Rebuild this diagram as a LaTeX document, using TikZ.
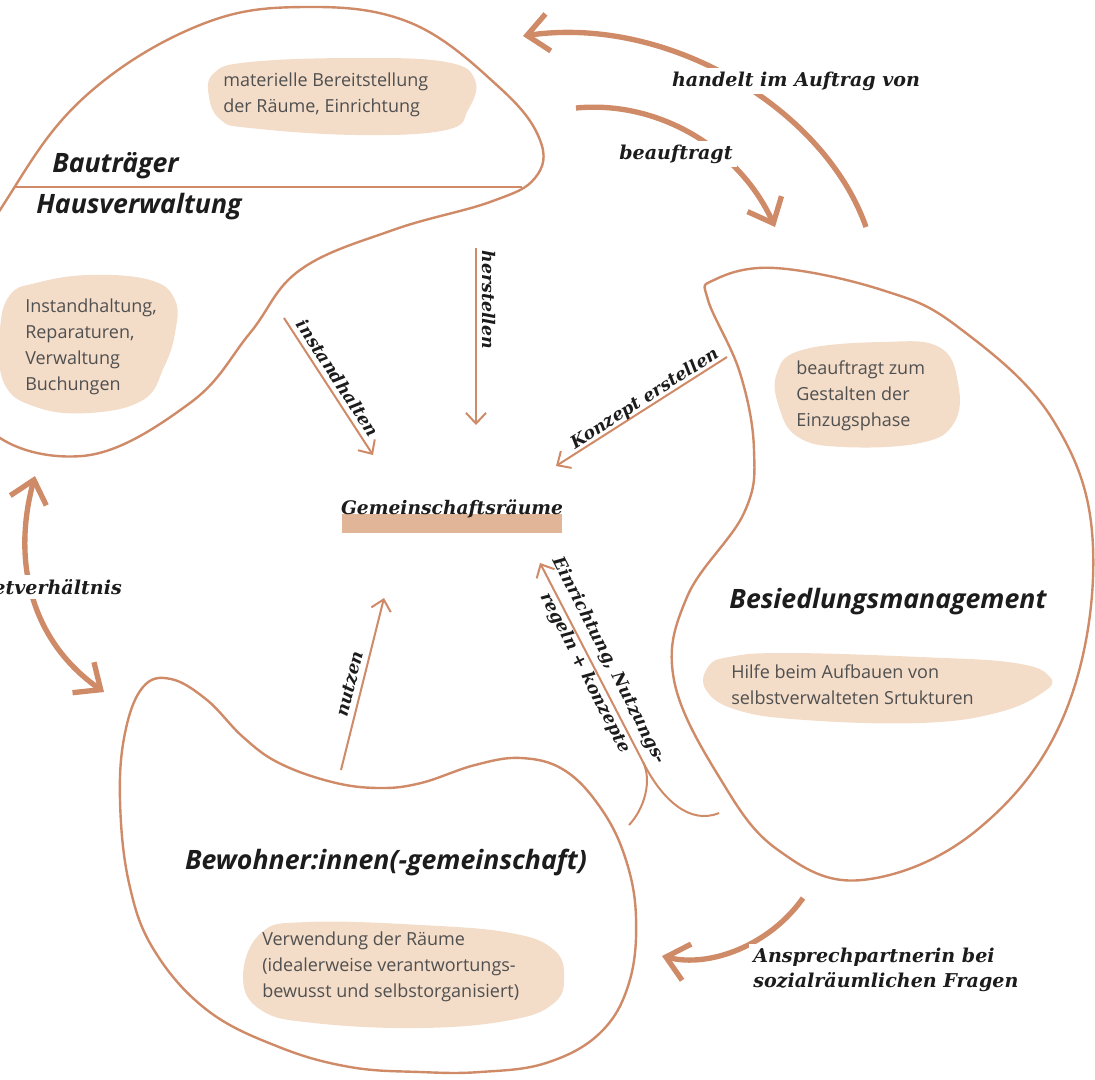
\documentclass[tikz,border=0pt]{standalone}
\usepackage{fontspec}
\setmainfont{Open Sans}
\newfontfamily\slabfont{DejaVu Serif}
\usetikzlibrary{arrows.meta,positioning,calc}

\definecolor{terra}{HTML}{CF8A67}
\definecolor{peach}{HTML}{F3DCC8}
\definecolor{clay}{HTML}{E1B597}
\definecolor{softink}{HTML}{505050}
\definecolor{ink}{HTML}{1C1C1C}

\begin{document}
\begin{tikzpicture}[
    x=0.75pt, y=-0.75pt,
    blob/.style={draw=terra, line width=1.8pt},
    bubble/.style={fill=peach},
    bubbletext/.style={anchor=west, align=left, inner sep=0pt, text=softink, font=\fontsize{13.5}{19.5}\selectfont},
    title/.style={inner sep=0pt, text=ink, font=\fontsize{20}{24}\selectfont\bfseries\itshape},
    biglabel/.style={fill=white, inner sep=3pt, align=left, text=ink, font=\slabfont\fontsize{14.3}{19}\selectfont\bfseries\itshape},
    smalllabel/.style={inner sep=0pt, align=center, text=ink, font=\slabfont\fontsize{13}{17.5}\selectfont\bfseries\itshape},
    thinarrow/.style={draw=terra, line width=1.5pt, -{Straight Barb[length=8pt,width=15pt]}},
    thinline/.style={draw=terra, line width=1.5pt},
    thickarrow/.style={draw=terra, line width=4pt, -{Straight Barb[length=16pt,width=28pt]}}
]
    \useasboundingbox (0,0) rectangle (1095,1079);
    \clip (0,0) rectangle (1095,1079);

    % the three actors
    \draw [blob] plot [smooth cycle, tension=0.65] coordinates {
        (14,188) (89,93) (200,25) (304,7) (411,23) (500,88) (540,140) (535,178)
        (490,202) (393,230) (300,270) (250,333) (190,403) (82,456) (-20,420) (-40,300)};
    \draw [blob] plot [smooth cycle, tension=0.65] coordinates {
        (714,280) (775,268) (882,290) (958,327) (1053,420) (1093,547) (1065,713)
        (977,830) (862,880) (778,850) (721,780) (674,680) (687,597) (744,513)
        (754,450) (740,373) (708,300)};
    \draw [blob] plot [smooth cycle, tension=0.65] coordinates {
        (171,679) (207,700) (243,737) (279,763) (332,782) (379,788) (421,783)
        (475,765) (521,758) (564,770) (600,807) (625,857) (636,917) (629,983)
        (600,1033) (546,1063) (480,1072) (420,1072) (350,1067) (279,1047)
        (207,1010) (154,950) (129,883) (120,800) (125,733) (143,687)};
    \draw [terra, line width=2.2pt] (14,187) -- (522,187);

    % bubbles
    \fill [bubble] plot [smooth cycle, tension=0.7] coordinates {
        (209,97) (214,73) (250,62) (357,58) (446,62) (475,80) (468,110) (446,130)
        (357,135) (250,128) (221,120)};
    \fill [bubble] plot [smooth cycle, tension=0.7] coordinates {
        (36,283) (89,275) (150,280) (175,300) (175,333) (164,367) (143,400)
        (89,413) (36,407) (4,383) (0,330) (10,295)};
    \fill [bubble] plot [smooth cycle, tension=0.7] coordinates {
        (802,350) (882,342) (939,347) (958,383) (954,423) (920,443) (843,447)
        (798,437) (779,407) (777,373)};
    \fill [bubble] plot [smooth cycle, tension=0.7] coordinates {
        (708,667) (729,657) (786,653) (920,657) (1015,663) (1050,677) (1042,693)
        (996,713) (920,723) (805,720) (737,710) (706,690)};
    \fill [bubble] plot [smooth cycle, tension=0.7] coordinates {
        (243,977) (261,933) (307,922) (421,925) (511,933) (554,950) (564,977)
        (554,1003) (511,1020) (421,1028) (314,1023) (261,1010)};

    \node [bubbletext] (materiell) at (223,95) {materielle Bereitstellung\\der Räume, Einrichtung};
    \node [bubbletext] (instand) at (25,347) {Instandhaltung,\\Reparaturen,\\Verwaltung\\Buchungen};
    \node [bubbletext] (einzug) at (796,396) {beauftragt zum\\Gestalten der\\Einzugsphase};
    \node [bubbletext] (hilfe) at (731,685) {Hilfe beim Aufbauen von\\selbstverwalteten Srtukturen};
    \node [bubbletext] (verwendung) at (262,967) {Verwendung der Räume\\(idealerweise verantwortungs-\\bewusst und selbstorganisiert)};

    \node [title, anchor=west] (bautraeger) at (52,166) {Bauträger};
    \node [title, anchor=west] (hausverw) at (36,207) {Hausverwaltung};
    \node [title] (besiedlung) at (888,602) {Besiedlungsmanagement};
    \node [title] (bewohner) at (386,862) {Bewohner:innen(-gemeinschaft)};

    % centre
    \fill [clay] (342,514) rectangle (562,533);
    \node [smalllabel, font=\slabfont\fontsize{14}{17}\selectfont\bfseries\itshape] (raeume) at (452,509) {Gemeinschaftsräume};

    % thin connectors
    \coordinate (her-s) at (476,248);   \coordinate (her-e) at (476,425);
    \coordinate (ins-s) at (284,318);   \coordinate (ins-e) at (373,455);
    \coordinate (kon-s) at (727,357);   \coordinate (kon-e) at (556,466);
    \coordinate (nut-s) at (341,770);   \coordinate (nut-e) at (384,598);
    \coordinate (ein-l) at (629,825);   \coordinate (ein-r) at (719,813);
    \coordinate (ein-m) at (643,762);   \coordinate (ein-e) at (540,563);

    \draw [thinarrow] (her-s) -- (her-e);
    \draw [thinarrow] (ins-s) -- (ins-e);
    \draw [thinarrow] (kon-s) -- (kon-e);
    \draw [thinarrow] (nut-s) -- (nut-e);
    \draw [thinarrow] (ein-l) .. controls (645,808) and (652,780) .. (ein-m) -- (ein-e);
    \draw [thinline] (ein-r) .. controls (690,825) and (662,800) .. (ein-m);

    \node [smalllabel, rotate=-90] (herstellen) at (489,300) {herstellen};
    \node [smalllabel, rotate=-57] (instandhalten) at (338,378) {instandhalten};
    \node [smalllabel, rotate=32.5] (konzept) at (645,399) {Konzept erstellen};
    \node [smalllabel, rotate=76] (nutzen) at (350,684) {nutzen};
    \node [smalllabel, rotate=-63, font=\slabfont\fontsize{13}{20}\selectfont\bfseries\itshape] (einrichtung) at (597,667) {Einrichtung, Nutzungs-\\regeln + konzepte};

    % thick connectors
    \coordinate (auf-s) at (866,227);   \coordinate (auf-e) at (523,36);
    \coordinate (bea-s) at (576,108);   \coordinate (bea-e) at (775,227);
    \coordinate (mie-s) at (35,476);    \coordinate (mie-e) at (104,692);
    \coordinate (ans-s) at (803,898);   \coordinate (ans-e) at (662,956);

    \draw [thickarrow] (auf-s) .. controls (825,110) and (670,15) .. (auf-e);
    \draw [thickarrow] (bea-s) .. controls (660,100) and (740,150) .. (bea-e);
    \draw [thickarrow, {Straight Barb[length=16pt,width=28pt]}-{Straight Barb[length=16pt,width=28pt]}] (mie-s) .. controls (12,560) and (30,640) .. (mie-e);
    \draw [thickarrow] (ans-s) .. controls (770,945) and (710,968) .. (ans-e);

    \node [biglabel] (auftrag) at (796,81) {handelt im Auftrag von};
    \node [biglabel] (beauftragt) at (676,154) {beauftragt};
    \node [biglabel, anchor=east] (miete) at (126,587) {Mietverhältnis};
    \node [biglabel, anchor=west] (ansprech) at (749,970) {Ansprechpartnerin bei\\sozialräumlichen Fragen};
\end{tikzpicture}
\end{document}
